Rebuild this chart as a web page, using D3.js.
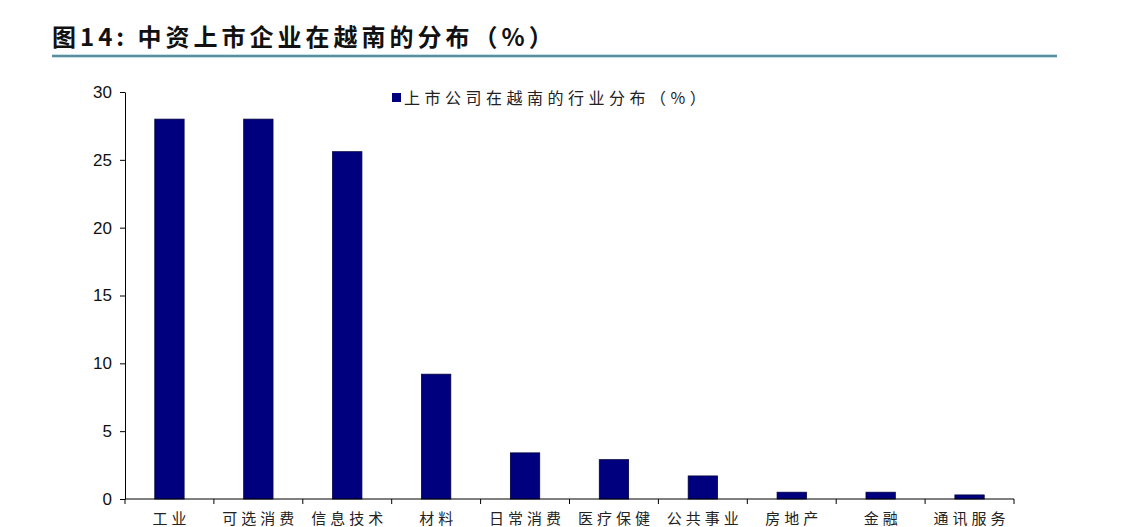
<!DOCTYPE html>
<html>
<head>
<meta charset="utf-8">
<script src="https://cdn.jsdelivr.net/npm/d3@7"></script>
<style>
  html, body { margin: 0; padding: 0; background: #fff; overflow: hidden; }
  svg { display: block; }
</style>
</head>
<body>
<div id="chart"></div>
<script>
// chart values
const categories = ['工业', '可选消费', '信息技术', '材料', '日常消费', '医疗保健', '公共事业', '房地产', '金融', '通讯服务'];
const shares = [28, 28, 25.6, 9.2, 3.4, 2.9, 1.7, 0.5, 0.5, 0.3];
const yTicks = [0, 5, 10, 15, 20, 25, 30];
const titleText = '图14:  中资上市企业在越南的分布（%）';
const legendText = '上市公司在越南的行业分布（%）';

const W = 1125, H = 527;
const margin = { left: 125, right: 111, top: 92, bottom: 28 };

const svg = d3.select('#chart').append('svg')
  .attr('width', W)
  .attr('height', H);

// title + rule
svg.append('text')
  .attr('x', 52)
  .attr('y', 46)
  .style('font-family', '"Noto Sans CJK SC", sans-serif')
  .style('font-weight', 'bold')
  .style('font-size', '24px')
  .style('letter-spacing', '4px')
  .style('fill', '#111')
  .text(titleText);

svg.append('line')
  .attr('x1', 52).attr('x2', 1057)
  .attr('y1', 56).attr('y2', 56)
  .style('stroke', '#bfe3ee')
  .style('stroke-width', 4);
svg.append('line')
  .attr('x1', 52).attr('x2', 1057)
  .attr('y1', 56).attr('y2', 56)
  .style('stroke', '#3f6f7c')
  .style('stroke-width', 1.6);

const x = d3.scaleBand()
  .domain(categories)
  .range([margin.left, W - margin.right])
  .paddingInner(0.67)
  .paddingOuter(0.335);

const y = d3.scaleLinear()
  .domain([0, 30])
  .range([H - margin.bottom, margin.top]);

// bars
svg.append('g').selectAll('rect')
  .data(shares)
  .join('rect')
  .attr('x', (d, i) => x(categories[i]))
  .attr('y', d => y(d))
  .attr('width', x.bandwidth())
  .attr('height', d => y(0) - y(d))
  .style('fill', '#00007e')
  .style('stroke', '#000040')
  .style('stroke-width', 0.8);

// y axis
const yAxis = svg.append('g')
  .attr('transform', `translate(${margin.left},0)`)
  .call(d3.axisLeft(y).tickValues(yTicks).tickSize(5).tickPadding(8).tickSizeOuter(0));
yAxis.selectAll('text')
  .style('font-family', '"Liberation Sans", Arial, sans-serif')
  .style('font-size', '17px')
  .style('fill', '#111');

// x axis: ticks on category boundaries
const xAxis = svg.append('g')
  .attr('transform', `translate(0,${y(0)})`);
xAxis.append('line')
  .attr('x1', margin.left).attr('x2', W - margin.right)
  .style('stroke', '#000');
const step = x.step();
xAxis.selectAll('line.tick')
  .data(d3.range(categories.length + 1))
  .join('line')
  .attr('class', 'tick')
  .attr('x1', i => margin.left + i * step)
  .attr('x2', i => margin.left + i * step)
  .attr('y1', 0).attr('y2', 5)
  .style('stroke', '#000');
xAxis.selectAll('text')
  .data(categories)
  .join('text')
  .attr('x', d => x(d) + x.bandwidth() / 2 + 2)
  .attr('y', 25)
  .attr('text-anchor', 'middle')
  .style('font-family', '"Noto Sans CJK SC", sans-serif')
  .style('font-size', '15px')
  .style('letter-spacing', '4px')
  .style('fill', '#222')
  .text(d => d);

svg.selectAll('.domain, .tick line').style('stroke', '#000');

// legend
const legend = svg.append('g').attr('transform', 'translate(392,98)');
legend.append('rect')
  .attr('x', 0).attr('y', -5)
  .attr('width', 9).attr('height', 9)
  .style('fill', '#00007e');
legend.append('text')
  .attr('x', 12)
  .attr('y', 0)
  .attr('dy', '0.35em')
  .style('font-family', '"Noto Sans CJK SC", sans-serif')
  .style('font-size', '16px')
  .style('letter-spacing', '4.5px')
  .style('fill', '#222')
  .text(legendText);
</script>
</body>
</html>
